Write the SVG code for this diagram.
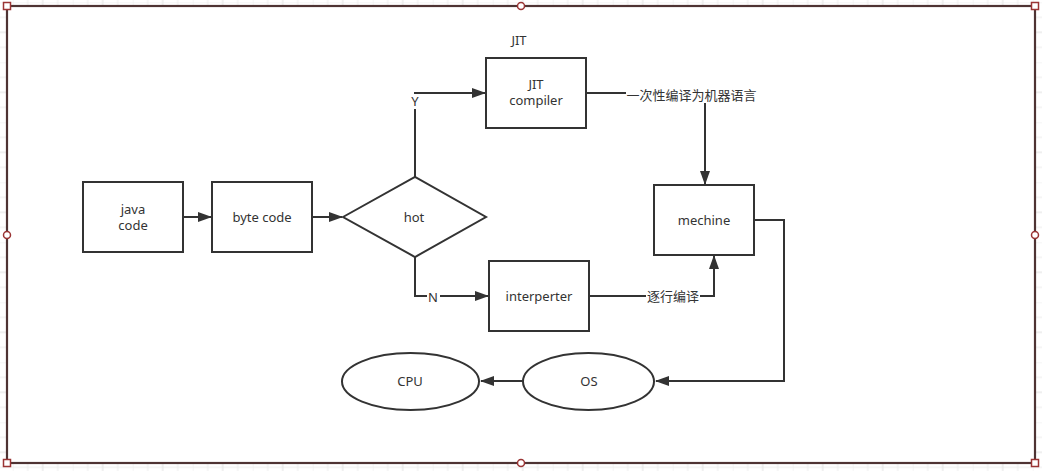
<svg xmlns="http://www.w3.org/2000/svg" width="1042" height="471" viewBox="0 0 1042 471">
<style>
.n{fill:#fff;stroke:#333;stroke-width:2}
.t{font-family:"Noto Sans","Noto Sans CJK SC",sans-serif;font-size:13px;fill:#333;text-anchor:middle}
.e{fill:none;stroke:#333;stroke-width:2}
.lb{fill:#fff}
.h{fill:#fff;stroke:#9a3434;stroke-width:1.5}
</style>
<defs>
<pattern id="g" x="12.7" y="2.3" width="60" height="60" patternUnits="userSpaceOnUse">
<path d="M15 0V60M45 0V60M0 15H60M0 45H60" stroke="#ececec" stroke-width="1" fill="none"/>
<path d="M30 0V60M0 30H60" stroke="#e0e0e0" stroke-width="1" fill="none"/>
<path d="M0 0V60M0 0H60" stroke="#ececec" stroke-width="1" fill="none"/>
</pattern>
<marker id="a" viewBox="0 0 14 10" refX="13" refY="5" markerWidth="14" markerHeight="10" markerUnits="userSpaceOnUse" orient="auto">
<path d="M0 0L14 5L0 10Z" fill="#333"/>
</marker>
</defs>
<rect width="1042" height="471" fill="#fff"/>
<rect width="1042" height="471" fill="url(#g)"/>
<rect x="7" y="6" width="1028" height="457" fill="#fff" stroke="#4e3333" stroke-width="2.2"/>
<g id="handles">
<rect class="h" x="3.5" y="2.5" width="7" height="7"/>
<rect class="h" x="1031.5" y="2.5" width="7" height="7"/>
<rect class="h" x="3.5" y="459.5" width="7" height="7"/>
<rect class="h" x="1031.5" y="459.5" width="7" height="7"/>
<circle class="h" cx="521" cy="6" r="3.5"/>
<circle class="h" cx="521" cy="463" r="3.5"/>
<circle class="h" cx="7" cy="235" r="3.5"/>
<circle class="h" cx="1035" cy="235" r="3.5"/>
</g>
<g id="connectors">
<path class="e" d="M183 217H211" marker-end="url(#a)"/>
<path class="e" d="M312 217H342" marker-end="url(#a)"/>
<path class="e" d="M415 177V93H485" marker-end="url(#a)"/>
<path class="e" d="M415 257V296H488" marker-end="url(#a)"/>
<path class="e" d="M586 93H705V184" marker-end="url(#a)"/>
<path class="e" d="M589 296H714V256" marker-end="url(#a)"/>
<path class="e" d="M754 220H784V381H656" marker-end="url(#a)"/>
<path class="e" d="M523 381H481" marker-end="url(#a)"/>
<rect class="lb" x="409" y="94" width="12" height="15"/>
<text class="t" x="415" y="106">Y</text>
<rect class="lb" x="427" y="290" width="13" height="14"/>
<text class="t" x="433" y="302">N</text>
<rect class="lb" x="626" y="86" width="131" height="17"/>
<text class="t" x="691.5" y="100">一次性编译为机器语言</text>
<rect class="lb" x="646" y="288" width="54" height="17"/>
<text class="t" x="673" y="301">逐行编译</text>
</g>
<g id="java-code"><rect class="n" x="83" y="182" width="100" height="70"/><text class="t" x="133" y="214">java</text><text class="t" x="133" y="230">code</text></g>
<g id="byte-code"><rect class="n" x="212" y="182" width="100" height="70"/><text class="t" x="262" y="222">byte code</text></g>
<g id="hot"><path class="n" d="M343 217L415 177L486 217L415 257Z"/><text class="t" x="414" y="222">hot</text></g>
<g id="jit-label"><text class="t" x="519" y="45">JIT</text></g>
<g id="jit-compiler"><rect class="n" x="486" y="58" width="100" height="70"/><text class="t" x="536" y="89">JIT</text><text class="t" x="536" y="105">compiler</text></g>
<g id="mechine"><rect class="n" x="654" y="185" width="100" height="70"/><text class="t" x="704" y="225">mechine</text></g>
<g id="interperter"><rect class="n" x="489" y="261" width="100" height="70"/><text class="t" x="539" y="301">interperter</text></g>
<g id="os"><ellipse class="n" cx="588.5" cy="381.5" rx="65.5" ry="28.5"/><text class="t" x="589" y="386">OS</text></g>
<g id="cpu"><ellipse class="n" cx="410.5" cy="381.5" rx="68.5" ry="28.5"/><text class="t" x="410" y="386">CPU</text></g>
</svg>
